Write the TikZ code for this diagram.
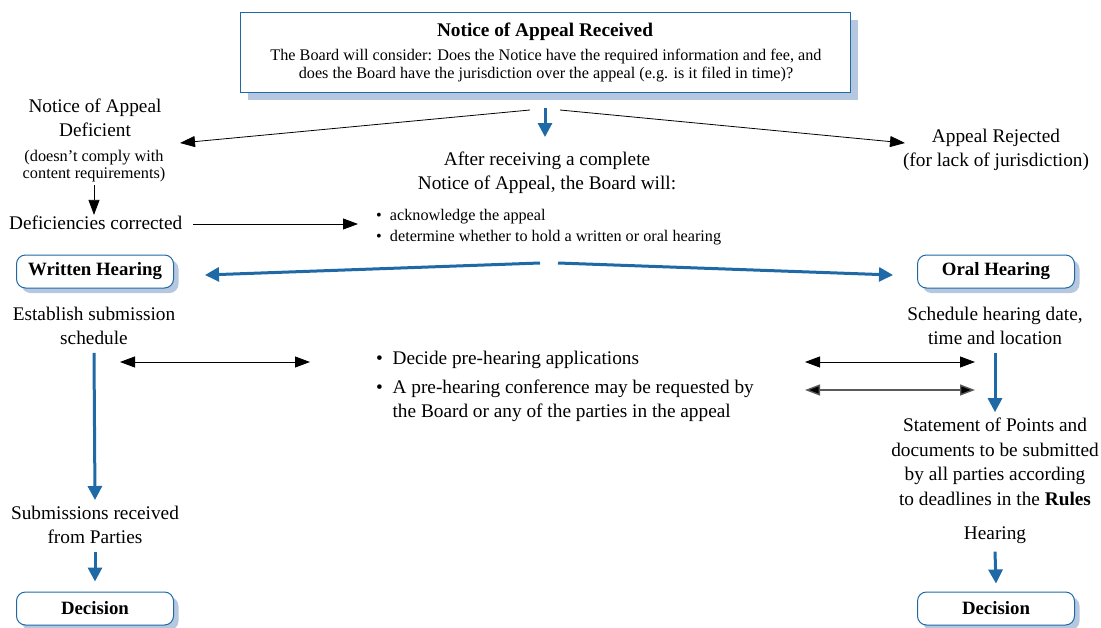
\documentclass[tikz,border=0pt]{standalone}
\usepackage{fontspec}
\setmainfont{Liberation Serif}
\usetikzlibrary{arrows.meta,shadows}
\definecolor{bblue}{HTML}{1E69A6}
\definecolor{shad}{HTML}{B6C7E0}
\tikzset{
  txt/.style={align=center,inner sep=0pt,font=\fontsize{19.3}{24}\selectfont},
  smalltxt/.style={align=center,inner sep=0pt,font=\fontsize{16.3}{17.5}\selectfont},
  hbox/.style={draw=bblue,line width=1pt,rounded corners=9pt,fill=white,minimum width=157pt,minimum height=33pt,inner sep=0pt,font=\bfseries\fontsize{18.8}{22}\selectfont,
     drop shadow={shadow xshift=5pt,shadow yshift=-5pt,fill=shad,opacity=1}},
  blk/.style={-{Triangle[length=15pt,width=11pt]},line width=0.8pt},
  dbl/.style={{Triangle[length=15pt,width=11pt]}-{Triangle[length=15pt,width=11pt]},line width=0.8pt},
  blu/.style={-{Triangle[length=14pt,width=14pt]},draw=bblue,line width=3pt},
}
\begin{document}
\begin{tikzpicture}[x=1pt,y=-1pt]
\useasboundingbox (0,0) rectangle (1101,627);
% top box
\node[draw=bblue,line width=1pt,fill=white,minimum width=610pt,minimum height=80pt,inner sep=0pt,
  drop shadow={shadow xshift=8pt,shadow yshift=-8pt,fill=shad,opacity=1}] (top) at (545,52) {};
\node[inner sep=0pt,font=\bfseries\fontsize{19.3}{22}\selectfont] (toptitle) at (545,32) {Notice of Appeal Received};
\node[align=center,inner sep=0pt,font=\fontsize{16.2}{18}\selectfont] (topbody) at (546,66) {The Board will consider: Does the Notice have the required information and fee, and\\does the Board have the jurisdiction over the appeal (e.g. is it filed in time)?};
\coordinate (tl) at (530,110);
\coordinate (tm) at (545,108);
\coordinate (tmEnd) at (545,137);
\coordinate (tr) at (560,110);
% left branch
\node[txt] (deficient) at (95,118) {Notice of Appeal\\Deficient};
\node[smalltxt] (comply) at (94,166) {(doesn't comply with\\content requirements)};
\node[txt,anchor=west] (corrected) at (9,223) {Deficiencies corrected};
\coordinate (defarrow) at (180,143);
% right branch
\node[txt] (rejected) at (996,150) {Appeal Rejected\\(for lack of jurisdiction)};
\coordinate (rejarrow) at (905,143);
% middle
\node[txt] (after) at (547,173) {After receiving a complete\\Notice of Appeal, the Board will:};
\node[anchor=west,inner sep=0pt,align=left,font=\fontsize{16.2}{21}\selectfont] (acts) at (376,227) {\textbullet\enspace acknowledge the appeal\\\textbullet\enspace determine whether to hold a written or oral hearing};
\coordinate (corrStart) at (193,224);
\coordinate (corrEnd) at (358,224);
\coordinate (ml) at (540,263);
\coordinate (mr) at (558,263);
% hearing boxes
\node[hbox] (written) at (95,271.5) {Written Hearing};
\node[hbox] (oral) at (996,271.5) {Oral Hearing};
\coordinate (wIn) at (205,275);
\coordinate (oIn) at (893,275);
% under written
\node[txt] (establish) at (94,326) {Establish submission\\schedule};
\node[txt] (submissions) at (95,525) {Submissions received\\from Parties};
\node[hbox] (decL) at (95,608.5) {Decision};
% under oral
\node[txt] (schedule) at (995,326) {Schedule hearing date,\\time and location};
\node[txt,font=\fontsize{19.3}{24.5}\selectfont] (points) at (995,462) {Statement of Points and\\documents to be submitted\\by all parties according\\to deadlines in the \textbf{Rules}};
\node[txt] (hearing) at (995,535) {Hearing};
\node[hbox] (decR) at (996,608.5) {Decision};
% pre-hearing
\node[anchor=west,inner sep=0pt,align=left,font=\fontsize{19.3}{24}\selectfont] (pre1) at (376,360) {\textbullet\enspace Decide pre-hearing applications};
\node[anchor=north west,inner sep=0pt,align=left,font=\fontsize{19.3}{24}\selectfont] (pre2) at (376,380) {\textbullet\enspace A pre-hearing conference may be requested by\\\phantom{\textbullet\enspace}the Board or any of the parties in the appeal};
\coordinate (pl1) at (120,362); \coordinate (pl2) at (310,362);
\coordinate (pr1) at (805,362); \coordinate (pr2) at (975,362);
\coordinate (pr3) at (805,390); \coordinate (pr4) at (975,390);
% connectors
\draw[blk] (tl) -- (defarrow);
\draw[blk] (tr) -- (rejarrow);
\draw[blu] (tm) -- (tmEnd);
\draw[blk] ([yshift=-3pt]comply.south) -- ([yshift=1pt]corrected.north -| comply.south);
\draw[blk] (corrStart) -- (corrEnd);
\draw[blu] (ml) -- (wIn);
\draw[blu] (mr) -- (oIn);
\draw[blu] ([yshift=-8pt]establish.south) -- ([yshift=6pt]submissions.north);
\draw[dbl] (pl1) -- (pl2);
\draw[dbl] (pr1) -- (pr2);
\draw[{Triangle[length=15pt,width=11pt,fill=black]}-{Triangle[length=15pt,width=11pt,fill=black]},draw=black!65,line width=1.4pt] (pr3) -- (pr4);
\draw[blu] ([yshift=-8pt]schedule.south) -- ([yshift=6pt]points.north);
\draw[blu] ([yshift=-8pt]submissions.south) -- ([yshift=10pt]decL.north);
\draw[blu] ([yshift=-8pt]hearing.south) -- ([yshift=8pt]decR.north);
\end{tikzpicture}
\end{document}
